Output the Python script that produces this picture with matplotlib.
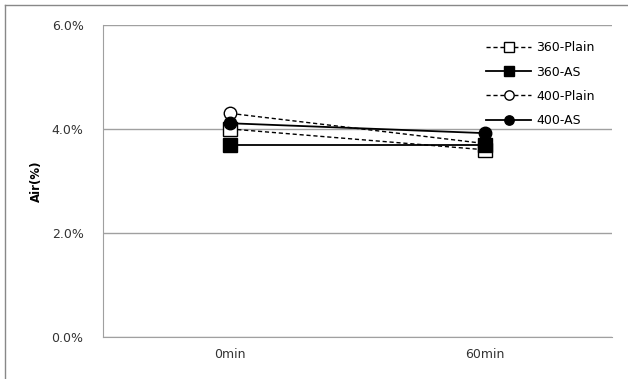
import matplotlib
matplotlib.use('Agg')
import matplotlib.pyplot as plt
from matplotlib.lines import Line2D
from matplotlib.ticker import FuncFormatter

plt.rcParams['font.family'] = ['DejaVu Sans']

times = ['0min', '60min']
plain_360 = [4.0, 3.6]
as_360 = [3.7, 3.7]
plain_400 = [4.3, 3.72]
as_400 = [4.11, 3.92]

fig = plt.figure(figsize=(6.28, 3.79), dpi=100)
ax = fig.add_axes([0.164, 0.111, 0.811, 0.823])

x = list(range(len(times)))
ax.plot(x, plain_360, color='black', ls='--', lw=1.0, marker='s', ms=10,
        mfc='white', mec='black', mew=1.0, label='360-Plain', dashes=(3, 2), zorder=2)
ax.plot(x, as_360, color='black', ls='-', lw=1.3, marker='s', ms=10,
        mfc='black', mec='black', label='360-AS', zorder=3)
ax.plot(x, plain_400, color='black', ls='--', lw=1.0, marker='o', ms=9,
        mfc='white', mec='black', mew=1.0, label='400-Plain', dashes=(3, 2), zorder=2)
ax.plot(x, as_400, color='black', ls='-', lw=1.3, marker='o', ms=9,
        mfc='black', mec='black', label='400-AS', zorder=4)

ax.set_xlim(-0.5, 1.5)
ax.set_ylim(0, 6)
ax.set_xticks(x)
ax.set_xticklabels(times)
ax.set_yticks([0, 2, 4, 6])
ax.yaxis.set_major_formatter(FuncFormatter(lambda v, p: f'{v:.1f}%'))
ax.tick_params(axis='both', length=0, labelsize=9, colors='#333333', pad=14)
ax.tick_params(axis='x', pad=8)
ax.grid(axis='y', color='#a0a0a0', lw=1.0)
ax.set_axisbelow(True)
for s in ['top', 'right']:
    ax.spines[s].set_visible(False)
for s in ['left', 'bottom']:
    ax.spines[s].set_color('#a0a0a0')
ax.set_ylabel('Air(%)', fontsize=8.5, fontweight='bold', labelpad=6)

ax.legend(loc='upper right', frameon=False, fontsize=9, handlelength=3.6,
          labelspacing=0.9, borderaxespad=0.4, handletextpad=0.4,
          markerscale=0.75, bbox_to_anchor=(0.985, 0.98))

# outer chart border (left and top edge visible)
fig.add_artist(Line2D([5 / 628, 5 / 628], [0, 1 - 5 / 379], color='#888888', lw=1.0))
fig.add_artist(Line2D([5 / 628, 1], [1 - 5 / 379, 1 - 5 / 379], color='#888888', lw=1.0))

fig.savefig('out.png', dpi=100)
